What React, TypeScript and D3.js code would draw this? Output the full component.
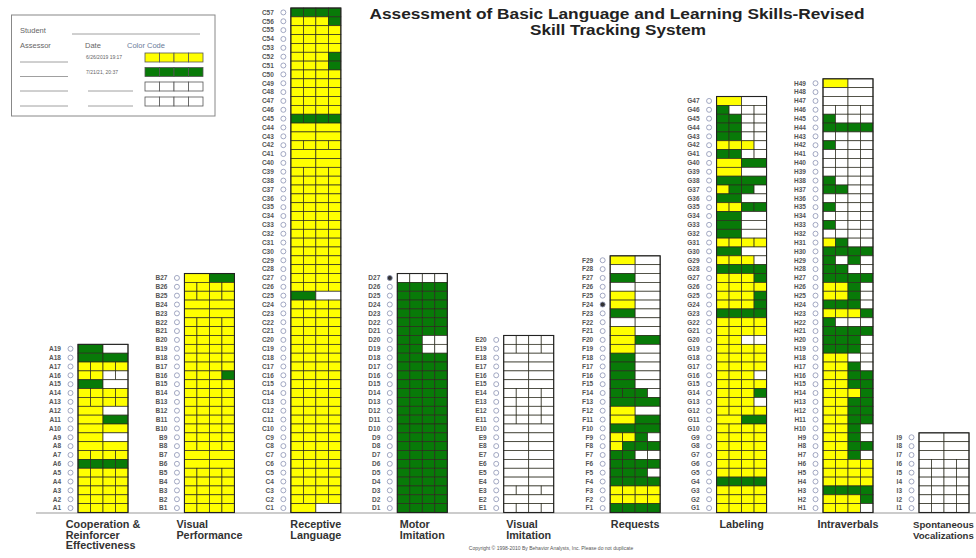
import * as d3 from 'd3'

const AREAS = ['A', 'B', 'C', 'D', 'E', 'F', 'G', 'H', 'I']
const AREA_TITLES = [
  ['Cooperation &', 'Reinforcer', 'Effectiveness'],
  ['Visual', 'Performance'],
  ['Receptive', 'Language'],
  ['Motor', 'Imitation'],
  ['Visual', 'Imitation'],
  ['Requests'],
  ['Labeling'],
  ['Intraverbals'],
  ['Spontaneous', 'Vocalizations'],
]

// Each row lists its score boxes: Y = first assessment, G = second, W = not scored.
// Rows run from the highest item number (top) down to item 1.
const A_ROWS = ['GW', 'GG', 'YYYY', 'YYWW', 'GW', 'YYYY', 'YYYY', 'YW', 'YG', 'YY', 'YW', 'YY', 'YYYY', 'GGGG', 'YYYY', 'YYYY', 'YYYY', 'YYYY', 'YYYY']
const B_ROWS = ['YG', 'YYYY', 'YYYY', 'YY', 'YY', 'YYYY', 'YYYY', 'YYYY', 'YYYY', 'YYYY', 'YYYY', 'YYYG', 'YYYY', 'YYYY', 'YYYY', 'YYYY', 'YYYY', 'YYYY', 'YYYY', 'YYYY', 'YY', 'YY', 'YYYY', 'YYYY', 'YYYY', 'YYYY', 'YYYY']
const C_ROWS = [
  'GGGG', 'YYYG', 'YYYY', 'YYYY', 'YYYY', 'YYYG', 'YYYG', 'YYYY', 'YYYY', 'YYYY', 'YYYY', 'YYYY',
  'GGGG', 'YY', 'YY', 'YYYY', 'YY', 'YY',
  'YYYY', 'YYYY', 'YYYY', 'YYYY', 'YYYY', 'YYYY', 'YYYY', 'YYYY', 'YYYY', 'YYYY', 'YYYY', 'YYYY', 'YYYY', 'YYYY',
  'GW',
  'YYYY', 'YYYY', 'YYYY', 'YYYY', 'YYYY', 'YYYY', 'YYYY', 'YYYY', 'YYYY', 'YYYY', 'YYYY', 'YYYY',
  'YYYY', 'YYYY', 'YYYY', 'YYYY', 'YYYY', 'YYYY', 'YYYY', 'YYYY', 'YYYY', 'YYYY', 'YYYY',
  'YW',
]
const D_ROWS = [
  'WWWW', 'GGGG', 'GGGG', 'GGGG', 'GGGG', 'GGGG', 'GGGG', 'GGWW', 'GGWW',
  'GGGG', 'GGGG', 'GGGG', 'GGGG', 'GGGG', 'GGGG', 'GGGG', 'GGGG', 'GGGG',
  'GGGG', 'GGGG', 'GGGG', 'GGGG', 'GGGG', 'GGGG', 'GGGG', 'GGGG', 'GGGG',
]
const E_ROWS = ['WWWW', 'WWWW', 'WW', 'WW', 'WW', 'WW', 'WWWW', 'WWWW', 'WWWW', 'WWWW', 'WW', 'WW', 'WW', 'WW', 'WW', 'WW', 'WW', 'WWWW', 'WW', 'WWWW']
const F_ROWS = [
  'YW', 'WW', 'GW', 'WW', 'YW', 'YW', 'GW', 'WW', 'YW', 'YG', 'YW', 'GW', 'GW', 'GW', 'GW',
  'GGGW', 'GG', 'YW', 'YG', 'GG', 'YYGW', 'YGGG', 'GGWW', 'GGGG', 'GGGW', 'GGGG', 'YYYY', 'YYYY', 'GGGG',
]
const G_ROWS = [
  'YW', 'GWWW', 'GGWW', 'GGWW', 'GGWW', 'YYYW', 'GGWW', 'YG', 'YW', 'GG', 'YGGW', 'GW', 'YYGG', 'GW', 'GW', 'GW',
  'YYYY', 'GW', 'YYYW', 'GGGG', 'YYYG', 'YYYY', 'YYYG', 'YYYG', 'GGGG', 'YYYY', 'YYYY', 'YYWW', 'YYYY', 'YYYY',
  'YYYY', 'YYYW', 'YYYY', 'YYYG', 'YYYW', 'YYYY', 'YG', 'YYYY', 'YYYY', 'YYYY', 'YYYY', 'YYYY', 'YYYY', 'GGGG',
  'YYYY', 'YYYY', 'YYYY',
]
const H_ROWS = [
  'YW', 'WW', 'WW', 'WWWW', 'GWWW', 'GGGG', 'WWWW', 'GWWW', 'WWWW', 'WWWW', 'WWWW', 'GWWW', 'GGWW', 'WWWW',
  'GWWW', 'WWWW', 'GWWW', 'WWWW', 'YGWW', 'GGGG', 'GWGW', 'GGWW', 'GGGG', 'YYGW',
  'YYGW', 'GGGW', 'YYYG', 'GWWW', 'GGGG', 'GGGW', 'GGGW', 'YYWW', 'YYGW', 'YYGG', 'YYGG', 'YYYG', 'YYGG',
  'YYGG', 'YYGG', 'YYGW', 'YYGW', 'YYGG', 'YYGW', 'YYYY', 'YYYY', 'YYYY', 'GGGG', 'YYYG', 'YYYW',
]
const I_ROWS = ['WW', 'WW', 'WW', 'WWWW', 'WWWW', 'WWWW', 'WWWW', 'WWWW', 'WWWW']

const AREA_ROWS = [A_ROWS, B_ROWS, C_ROWS, D_ROWS, E_ROWS, F_ROWS, G_ROWS, H_ROWS, I_ROWS]
const FILLED_MARKS = ['D27', 'F24']

const LEGEND_CODES = ['Y', 'G', 'W', 'W']
const LEGEND_DATES = ['6/26/2019 19:17', '7/21/21, 20:37', '', '']

const TITLE = ['Assessment of Basic Language and Learning Skills-Revised', 'Skill Tracking System']
const COPYRIGHT = 'Copyright \u00a9 1998-2010 By Behavior Analysts, Inc.     Please do not duplicate'

const FILL: Record<string, string> = { Y: '#ffff00', G: '#087a08', W: '#ffffff' }
const FONT = '"Liberation Sans", Arial, sans-serif'
const AREA_FONT_SIZE = 10.8
const PAGE_W = 976

const maxRows = d3.max(AREA_ROWS, r => r.length) ?? 1
const y = d3.scaleLinear().domain([0, maxRows]).range([512.5, 8])
const x = d3.scaleLinear().domain([0, 7, 8]).range([78, 823, 919])
const BOX_W = 50

let ctx: CanvasRenderingContext2D | null = null
function textWidth(s: string, font: string) {
  if (!ctx) ctx = document.createElement('canvas').getContext('2d')
  if (!ctx) return s.length * 5
  ctx.font = font
  return ctx.measureText(s).width
}

function Area({ idx }: { idx: number }) {
  const letter = AREAS[idx]
  const rows = AREA_ROWS[idx]
  const n = rows.length
  const left = x(idx)
  const titleLines = AREA_TITLES[idx]
  const rawW = d3.max(titleLines, s => textWidth(s, `bold ${AREA_FONT_SIZE}px ${FONT}`)) ?? 0
  let titleX = left + BOX_W / 2 - rawW / 2
  let fs = AREA_FONT_SIZE
  // the last block sits at the page edge: shrink it so it stays inside
  if (titleX + rawW > PAGE_W - 2) {
    titleX = left - 6
    fs = Math.min(AREA_FONT_SIZE, AREA_FONT_SIZE * (PAGE_W - 2 - titleX) / rawW)
  }

  return (
    <g>
      {rows.map((cells, i) => {
        const item = n - i
        const top = y(item)
        const h = y(item - 1) - top
        const cw = BOX_W / cells.length
        const label = `${letter}${item}`
        return (
          <g key={item}>
            <text x={left - 17} y={top + h / 2 + 2.3} textAnchor="end" fontSize={6.5}
              fontWeight="bold" fill="#555" fontFamily={FONT}>{label}</text>
            <circle cx={left - 7.5} cy={top + h / 2} r={2.5}
              fill={FILLED_MARKS.includes(label) ? '#333' : '#fff'} stroke="#8a92b2" strokeWidth={0.8} />
            {cells.split('').map((c, j) => (
              <rect key={j} x={left + j * cw} y={top} width={cw} height={h}
                fill={FILL[c]} stroke="#2b2b1e" strokeWidth={0.7} />
            ))}
          </g>
        )
      })}
      <rect x={left} y={y(n)} width={BOX_W} height={y(0) - y(n)} fill="none" stroke="#222" strokeWidth={1.1} />
      {titleLines.map((s, k) => (
        <text key={k} x={titleX} y={528 + k * 10.6} fontSize={fs} fontWeight="bold"
          fill="#333" fontFamily={FONT}>{s}</text>
      ))}
    </g>
  )
}

function Legend() {
  const rowY = [53, 67.5, 82, 97]
  const cellW = 14.5
  return (
    <g fontFamily={FONT}>
      <rect x={11.5} y={15} width={203.5} height={101} fill="#fff" stroke="#888" strokeWidth={1} />
      <text x={20} y={33} fontSize={7.5} fill="#666">Student</text>
      <line x1={72} x2={200} y1={34} y2={34} stroke="#888" strokeWidth={0.8} />
      <text x={20} y={48} fontSize={7.5} fill="#666">Assessor</text>
      <text x={85} y={48} fontSize={7.5} fill="#666">Date</text>
      <text x={127} y={48} fontSize={7.5} fill="#6b7a99">Color Code</text>
      {LEGEND_CODES.map((code, i) => (
        <g key={i}>
          <line x1={20} x2={68} y1={rowY[i] + 9} y2={rowY[i] + 9} stroke="#888" strokeWidth={0.8} />
          {LEGEND_DATES[i]
            ? <text x={86} y={rowY[i] + 6} fontSize={5} fill="#666">{LEGEND_DATES[i]}</text>
            : <line x1={88} x2={133} y1={rowY[i] + 9} y2={rowY[i] + 9} stroke="#888" strokeWidth={0.8} />}
          {d3.range(4).map(j => (
            <rect key={j} x={145 + j * cellW} y={rowY[i]} width={cellW} height={9}
              fill={FILL[code]} stroke="#555" strokeWidth={0.8} />
          ))}
        </g>
      ))}
    </g>
  )
}

export default function App() {
  return (
    <svg width={976} height={558} style={{ position: 'absolute', left: 0, top: 0, background: '#fff' }}>
      <rect width={976} height={558} fill="#fff" />
      <Legend />
      <text x={617} y={19} textAnchor="middle" fontSize={14} fontWeight="bold" fill="#222" fontFamily={FONT}
        textLength={495} lengthAdjust="spacingAndGlyphs">{TITLE[0]}</text>
      <text x={618} y={35} textAnchor="middle" fontSize={14} fontWeight="bold" fill="#222" fontFamily={FONT}
        textLength={176} lengthAdjust="spacingAndGlyphs">{TITLE[1]}</text>
      <line x1={36} x2={976} y1={y(0) + 0.5} y2={y(0) + 0.5} stroke="#999" strokeWidth={1} />
      {AREAS.map((_, i) => <Area key={i} idx={i} />)}
      <text x={551} y={550} textAnchor="middle" fontSize={5} fill="#555" fontFamily={FONT}>{COPYRIGHT}</text>
    </svg>
  )
}
